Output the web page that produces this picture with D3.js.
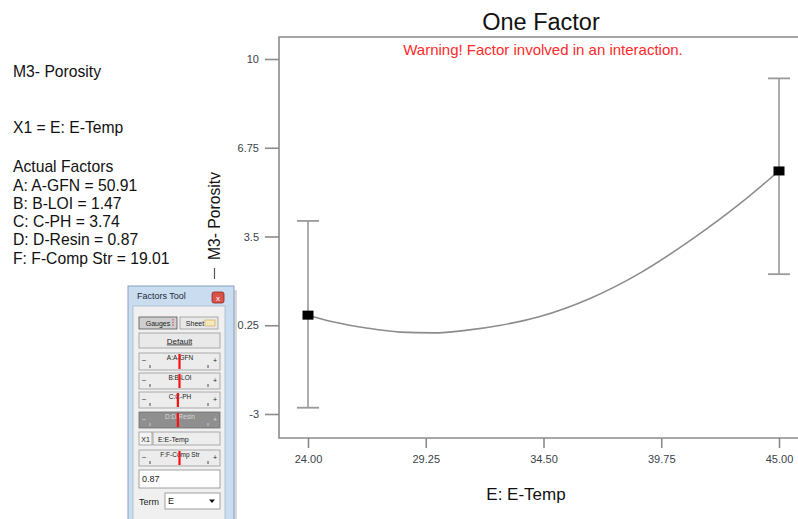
<!DOCTYPE html>
<html>
<head>
<meta charset="utf-8">
<script src="https://cdn.jsdelivr.net/npm/d3@7"></script>
<style>
  html, body { margin: 0; padding: 0; background: #fff; }
  svg { display: block; }
  text { font-family: Arial, "Liberation Sans", sans-serif; }
</style>
</head>
<body>
<svg id="chart" width="798" height="519"></svg>
<script>
// One-factor effect plot: predicted response vs. E-Temp with LSD bars at the design points
const title = "One Factor";
const warning = "Warning! Factor involved in an interaction.";
const responseName = "M3- Porosity";
const xLabel = "E: E-Temp";
const infoLines = ["X1 = E: E-Temp"];
const factorHeader = "Actual Factors";
const factorLines = [
  "A: A-GFN = 50.91",
  "B: B-LOI = 1.47",
  "C: C-PH = 3.74",
  "D: D-Resin = 0.87",
  "F: F-Comp Str = 19.01"
];

const xTicks = [24.00, 29.25, 34.50, 39.75, 45.00];
const yTicks = [-3, 0.25, 3.5, 6.75, 10];
const yTickLabels = ["-3", "0.25", "3.5", "6.75", "10"];

// design points: prediction and interval ends
const pointX = [24, 45];
const pointY = [0.62, 5.90];
const lowY = [-2.77, 2.12];
const highY = [4.07, 9.29];

// predicted response curve
const curveX = [24, 25.1, 26.6, 28.1, 29.6, 31.1, 32.6, 34.3, 36.6, 38.8, 41.0, 43.3, 44.7, 45];
const curveY = [0.62, 0.38, 0.15, 0.00, -0.03, 0.07, 0.25, 0.56, 1.24, 2.16, 3.33, 4.73, 5.69, 5.90];

// factors tool panel rows
const sliderRows = ["A:A-GFN", "B:B-LOI", "C:C-PH", "D:D-Resin", "X1 E:E-Temp", "F:F-Comp Str"];
const sliderPos = [0.50, 0.50, 0.48, 0.48, null, 0.50];
const activeValue = "0.87";
const termValue = "E";

const svg = d3.select("#chart");

const frame = { left: 279, top: 37, bottom: 438, right: 798 };
const x = d3.scaleLinear().domain([24, 45]).range([308, 779]);
const y = d3.scaleLinear().domain([-3, 10]).range([414, 59]);

// title & warning
svg.append("text").attr("x", 541).attr("y", 30).attr("text-anchor", "middle")
  .attr("font-size", 23.5).attr("fill", "#111").text(title);
svg.append("text").attr("x", 543).attr("y", 55).attr("text-anchor", "middle")
  .attr("font-size", 15).attr("fill", "#ff2a2a").text(warning);

// left-hand text block
const lf = 15.7;
svg.append("text").attr("x", 13).attr("y", 77).attr("font-size", lf).attr("fill", "#111").text(responseName);
svg.append("text").attr("x", 13).attr("y", 133).attr("font-size", lf).attr("fill", "#111").text(infoLines[0]);
svg.append("text").attr("x", 13).attr("y", 172).attr("font-size", lf).attr("fill", "#111").text(factorHeader);
svg.selectAll("text.factor").data(factorLines).join("text")
  .attr("class", "factor")
  .attr("x", 13).attr("y", (d, i) => 190.5 + i * 18.3)
  .attr("font-size", lf).attr("fill", "#111").text(d => d);

// frame
const frameColor = "#8a8a8a";
svg.append("path")
  .attr("d", `M${frame.right},${frame.top}H${frame.left}V${frame.bottom}H${frame.right}`)
  .attr("fill", "none").attr("stroke", frameColor).attr("stroke-width", 1.6);

// axes
const yAxis = d3.axisLeft(y).tickValues(yTicks)
  .tickFormat((d, i) => yTickLabels[i]).tickSize(14).tickPadding(6).tickSizeOuter(0);
const gy = svg.append("g").attr("transform", `translate(${frame.left},0)`).call(yAxis);
const xAxis = d3.axisBottom(x).tickValues(xTicks)
  .tickFormat(d3.format(".2f")).tickSize(10).tickPadding(7).tickSizeOuter(0);
const gx = svg.append("g").attr("transform", `translate(0,${frame.bottom})`).call(xAxis);
[gx, gy].forEach(g => {
  g.select(".domain").remove();
  g.selectAll(".tick line").attr("stroke", frameColor).attr("stroke-width", 1.6);
  g.selectAll(".tick text").attr("fill", "#3a3f4a").attr("font-size", 11)
    .style("font-family", "Arial, 'Liberation Sans', sans-serif");
});

// axis titles
svg.append("text").attr("x", 526).attr("y", 500).attr("text-anchor", "middle")
  .attr("font-size", 17).attr("fill", "#111").text(xLabel);
svg.append("defs").append("clipPath").attr("id", "ylabClip")
  .append("rect").attr("x", 190).attr("y", 150).attr("width", 30.5).attr("height", 130);
svg.append("g").attr("clip-path", "url(#ylabClip)")
  .append("text")
  .attr("transform", "translate(220,216) rotate(-90)")
  .attr("text-anchor", "middle").attr("font-size", 15.7).attr("fill", "#111").text(responseName);
svg.append("line").attr("x1", 214.5).attr("x2", 214.5).attr("y1", 268).attr("y2", 279)
  .attr("stroke", "#555").attr("stroke-width", 1.2);

// prediction curve
const line = d3.line().x(d => x(d[0])).y(d => y(d[1])).curve(d3.curveMonotoneX);
svg.append("path").datum(d3.zip(curveX, curveY))
  .attr("d", line).attr("fill", "none").attr("stroke", "#8c8c8c").attr("stroke-width", 1.6);

// error bars
const barColor = "#9a9a9a";
const bars = svg.append("g").selectAll("g").data(d3.range(pointX.length)).join("g");
bars.append("line")
  .attr("x1", i => x(pointX[i])).attr("x2", i => x(pointX[i]))
  .attr("y1", i => y(lowY[i])).attr("y2", i => y(highY[i]))
  .attr("stroke", barColor).attr("stroke-width", 1.6);
[lowY, highY].forEach(arr => {
  bars.append("line")
    .attr("x1", i => x(pointX[i]) - 11).attr("x2", i => x(pointX[i]) + 11)
    .attr("y1", i => y(arr[i])).attr("y2", i => y(arr[i]))
    .attr("stroke", barColor).attr("stroke-width", 1.8);
});
bars.append("rect")
  .attr("x", i => x(pointX[i]) - 5.5).attr("y", i => y(pointY[i]) - 4.5)
  .attr("width", 11).attr("height", 9).attr("fill", "#000");

// ---- Factors Tool panel ----
const P = svg.append("g").style("font-family", "Tahoma, 'DejaVu Sans', sans-serif");
const px0 = 128, py0 = 286, pw = 106, ph = 235;
// drop shadow along the right edge
P.append("rect").attr("x", px0 + pw).attr("y", py0 + 4).attr("width", 3).attr("height", ph)
  .attr("fill", "#d8d8d8");
P.append("rect").attr("x", px0).attr("y", py0).attr("width", pw).attr("height", ph)
  .attr("fill", "#c9dcf0").attr("stroke", "#8aa2bd").attr("stroke-width", 1);
P.append("text").attr("x", px0 + 9).attr("y", py0 + 13).attr("font-size", 9).attr("fill", "#1e2a3a")
  .text("Factors Tool");
P.append("rect").attr("x", 212).attr("y", py0 + 6).attr("width", 12).attr("height", 11).attr("rx", 2)
  .attr("fill", "#d9534a").attr("stroke", "#8e2a22").attr("stroke-width", 0.8);
P.append("text").attr("x", 218).attr("y", py0 + 14.5).attr("text-anchor", "middle")
  .attr("font-size", 8).attr("fill", "#fff").text("x");
// client area
P.append("rect").attr("x", 133).attr("y", 306).attr("width", 92).attr("height", 215)
  .attr("fill", "#f0f0f0").attr("stroke", "#a9b8c8").attr("stroke-width", 0.8);

const btn = (bx, by, bw, bh, fill, label, opts = {}) => {
  P.append("rect").attr("x", bx).attr("y", by).attr("width", bw).attr("height", bh)
    .attr("fill", fill).attr("stroke", opts.stroke || "#9a9a9a").attr("stroke-width", 0.8);
  if (label) {
    P.append("text").attr("x", opts.tx != null ? opts.tx : bx + bw / 2).attr("y", by + bh / 2 + 3)
      .attr("text-anchor", opts.anchor || "middle").attr("font-size", opts.fs || 7.5)
      .attr("fill", opts.color || "#222").attr("text-decoration", opts.deco || null).text(label);
  }
};
btn(139, 317, 38, 12, "#cfcfcf", "Gauges", { stroke: "#555", fs: 7 });
P.append("line").attr("x1", 173).attr("x2", 173).attr("y1", 319).attr("y2", 327)
  .attr("stroke", "#d33").attr("stroke-width", 1).attr("stroke-dasharray", "1.5,1.2");
btn(180, 317, 38, 12, "#e8e8e8", "Sheet", { tx: 195, fs: 7 });
P.append("rect").attr("x", 205).attr("y", 320).attr("width", 10).attr("height", 6)
  .attr("fill", "#f6e7b8").attr("stroke", "#c9a956").attr("stroke-width", 0.6);
btn(139, 333, 81, 15, "#e9e9e9", "Default", { fs: 8, deco: "underline" });

const rowY = [353, 373, 392, 412, 432, 450];
const rowH = [17, 16, 16, 16, 13, 16];
sliderRows.forEach((lab, i) => {
  const ry = rowY[i], rh = rowH[i];
  if (sliderPos[i] == null) {
    btn(139, ry, 13, rh, "#f4f4f4", "X1", { fs: 7 });
    btn(153, ry, 67, rh, "#ededed", lab.replace("X1 ", ""), { tx: 158, anchor: "start", fs: 7 });
    return;
  }
  const dark = i === 3;
  const fill = dark ? "#8f8f8f" : "#ececec";
  const tc = dark ? "#d8d8d8" : "#222";
  P.append("rect").attr("x", 139).attr("y", ry).attr("width", 81).attr("height", rh)
    .attr("fill", fill).attr("stroke", dark ? "#6e6e6e" : "#9a9a9a").attr("stroke-width", 0.8);
  P.append("text").attr("x", 180).attr("y", ry + 7).attr("text-anchor", "middle")
    .attr("font-size", 6.5).attr("fill", tc).text(lab);
  P.append("text").attr("x", 142).attr("y", ry + 9).attr("font-size", 7).attr("fill", tc).text("\u2013");
  P.append("text").attr("x", 217).attr("y", ry + 9.5).attr("text-anchor", "end")
    .attr("font-size", 7).attr("fill", tc).text("+");
  [150, 208].forEach(tx => P.append("line").attr("x1", tx).attr("x2", tx)
    .attr("y1", ry + rh - 5).attr("y2", ry + rh - 2).attr("stroke", tc).attr("stroke-width", 0.8));
  const mx = 139 + 81 * sliderPos[i];
  P.append("line").attr("x1", mx).attr("x2", mx).attr("y1", ry + 1).attr("y2", ry + rh - 1)
    .attr("stroke", "#ff1010").attr("stroke-width", 2.2);
});
btn(139, 470, 81, 18, "#ffffff", activeValue, { tx: 142, anchor: "start", fs: 9, stroke: "#8a8a8a" });
P.append("text").attr("x", 139).attr("y", 505).attr("font-size", 9).attr("fill", "#222").text("Term");
btn(165, 493, 55, 16, "#ffffff", termValue, { tx: 168, anchor: "start", fs: 9, stroke: "#8a8a8a" });
P.append("path").attr("d", "M209,499.5h6l-3,3.5z").attr("fill", "#111");
</script>
</body>
</html>
